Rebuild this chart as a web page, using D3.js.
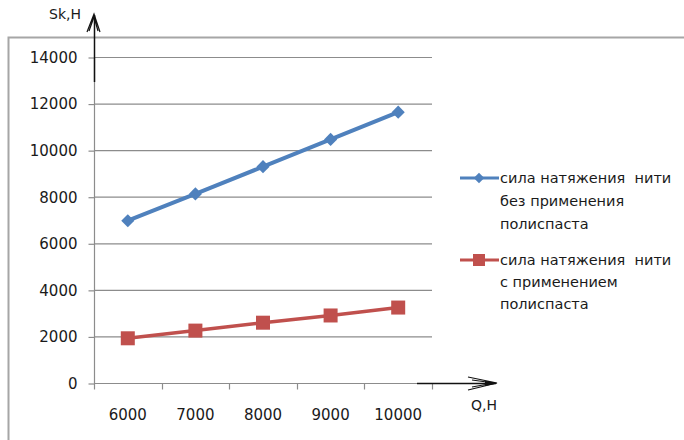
<!DOCTYPE html>
<html>
<head>
<meta charset="utf-8">
<script src="https://cdn.jsdelivr.net/npm/d3@7/dist/d3.min.js"></script>
<style>
  body { margin: 0; background: #fff; }
  text { font-family: "DejaVu Sans", Verdana, sans-serif; fill: #1a1a1a; }
</style>
</head>
<body>
<div id="chart"></div>
<script>
var categories = ["6000", "7000", "8000", "9000", "10000"];
var withoutPulley = [6970, 8120, 9290, 10460, 11630];
var withPulley = [1920, 2250, 2590, 2900, 3240];
var yTicks = [0, 2000, 4000, 6000, 8000, 10000, 12000, 14000];
var legendBlue = ["сила натяжения  нити", "без применения", "полиспаста"];
var legendRed = ["сила натяжения  нити", "с применением", "полиспаста"];

var blue = "#4F81BD";
var red = "#C0504D";

var svg = d3.select("#chart")
    .append("svg")
    .attr("width", 684)
    .attr("height", 440);

// outer frame (only top and left edges are visible)
svg.append("path")
    .attr("d", "M8.5,440 L8.5,37.5 L684,37.5")
    .style("fill", "none")
    .style("stroke", "#a6a6a6")
    .style("stroke-width", 2);

var x = d3.scaleBand()
    .domain(categories)
    .range([94, 432]);

var y = d3.scaleLinear()
    .domain([0, 14000])
    .range([383, 57]);

// gridlines
svg.selectAll(".grid")
    .data(yTicks.slice(1))
    .enter().append("line")
    .attr("class", "grid")
    .attr("x1", 94)
    .attr("x2", 432)
    .attr("y1", function(d) { return y(d) + 0.5; })
    .attr("y2", function(d) { return y(d) + 0.5; })
    .style("stroke", "#8c8c8c")
    .style("stroke-width", 1.2);

// y axis
var yAxis = svg.append("g")
    .attr("transform", "translate(94.5,0.5)")
    .call(d3.axisLeft(y).tickValues(yTicks).tickSize(6).tickPadding(11).tickFormat(d3.format("d")));
yAxis.select(".domain").style("stroke", "#8c8c8c").style("stroke-width", 1.2).attr("d", "M0,383V57");
yAxis.selectAll(".tick line").style("stroke", "#8c8c8c").style("stroke-width", 1.2);
yAxis.selectAll(".tick text").style("font-size", "15px").style("fill", "#1a1a1a");

// x axis, ticks on band edges
var xAxis = svg.append("g")
    .attr("transform", "translate(0,383.5)");
xAxis.append("line")
    .attr("x1", 94).attr("x2", 432)
    .style("stroke", "#8c8c8c").style("stroke-width", 1.2);
xAxis.selectAll(".xtick")
    .data(categories.concat(["end"]))
    .enter().append("line")
    .attr("class", "xtick")
    .attr("x1", function(d, i) { return Math.round(94 + i * x.step()) + 0.5; })
    .attr("x2", function(d, i) { return Math.round(94 + i * x.step()) + 0.5; })
    .attr("y1", 0).attr("y2", 6)
    .style("stroke", "#8c8c8c").style("stroke-width", 1.2);
xAxis.selectAll(".xlabel")
    .data(categories)
    .enter().append("text")
    .attr("class", "xlabel")
    .attr("x", function(d) { return x(d) + x.bandwidth() / 2; })
    .attr("y", 36)
    .attr("text-anchor", "middle")
    .style("font-size", "15px")
    .text(function(d) { return d; });

// hand drawn arrows
svg.append("line")
    .attr("x1", 94.5).attr("x2", 94.5).attr("y1", 82).attr("y2", 15)
    .style("stroke", "#111").style("stroke-width", 1.5);
svg.append("path")
    .attr("d", "M87,32 L94,14 L100,32 M89,31 L94,17 L98,31")
    .style("fill", "none").style("stroke", "#111").style("stroke-width", 1.2);
svg.append("line")
    .attr("x1", 417).attr("x2", 496).attr("y1", 383.5).attr("y2", 383.5)
    .style("stroke", "#111").style("stroke-width", 1.5);
svg.append("path")
    .attr("d", "M468,377 L497,383 L468,390 M472,380 L494,383 L472,387")
    .style("fill", "none").style("stroke", "#111").style("stroke-width", 1.2);
svg.append("path")
    .attr("d", "M485,381 L497,383.5 L485,386 Z")
    .style("fill", "#111");

svg.append("text")
    .attr("x", 49).attr("y", 19)
    .style("font-size", "14px")
    .text("Sk,H");
svg.append("text")
    .attr("x", 471).attr("y", 410)
    .style("font-size", "14px")
    .text("Q,H");

var line = d3.line()
    .x(function(d, i) { return x(categories[i]) + x.bandwidth() / 2; })
    .y(function(d) { return y(d); });

var diamond = d3.symbol().type(d3.symbolDiamond2).size(110);

// series 1
svg.append("path")
    .datum(withoutPulley)
    .attr("d", line)
    .style("fill", "none")
    .style("stroke", blue)
    .style("stroke-width", 4);
svg.selectAll(".diamond")
    .data(withoutPulley)
    .enter().append("path")
    .attr("class", "diamond")
    .attr("transform", function(d, i) { return "translate(" + (x(categories[i]) + x.bandwidth() / 2) + "," + y(d) + ")"; })
    .attr("d", diamond)
    .style("fill", blue);

// series 2
svg.append("path")
    .datum(withPulley)
    .attr("d", line)
    .style("fill", "none")
    .style("stroke", red)
    .style("stroke-width", 3.5);
svg.selectAll(".square")
    .data(withPulley)
    .enter().append("rect")
    .attr("class", "square")
    .attr("x", function(d, i) { return x(categories[i]) + x.bandwidth() / 2 - 7; })
    .attr("y", function(d) { return y(d) - 7; })
    .attr("width", 14)
    .attr("height", 14)
    .style("fill", red);

// legend
var legend = svg.append("g").attr("transform", "translate(460,0)");
legend.append("line")
    .attr("x1", 0).attr("x2", 39).attr("y1", 178).attr("y2", 178)
    .style("stroke", blue).style("stroke-width", 3);
legend.append("path")
    .attr("transform", "translate(19,178)")
    .attr("d", d3.symbol().type(d3.symbolDiamond2).size(70))
    .style("fill", blue);
legend.append("line")
    .attr("x1", 0).attr("x2", 39).attr("y1", 260).attr("y2", 260)
    .style("stroke", red).style("stroke-width", 3);
legend.append("rect")
    .attr("x", 13).attr("y", 254).attr("width", 12).attr("height", 12)
    .style("fill", red);

legend.selectAll(".lb")
    .data(legendBlue)
    .enter().append("text")
    .attr("class", "lb")
    .attr("x", 40)
    .attr("y", function(d, i) { return 183 + i * 23; })
    .style("font-size", "14.5px")
    .style("white-space", "pre")
    .text(function(d) { return d; });
legend.selectAll(".lr")
    .data(legendRed)
    .enter().append("text")
    .attr("class", "lr")
    .attr("x", 40)
    .attr("y", function(d, i) { return 265 + i * 22; })
    .style("font-size", "14.5px")
    .style("white-space", "pre")
    .text(function(d) { return d; });
</script>
</body>
</html>
